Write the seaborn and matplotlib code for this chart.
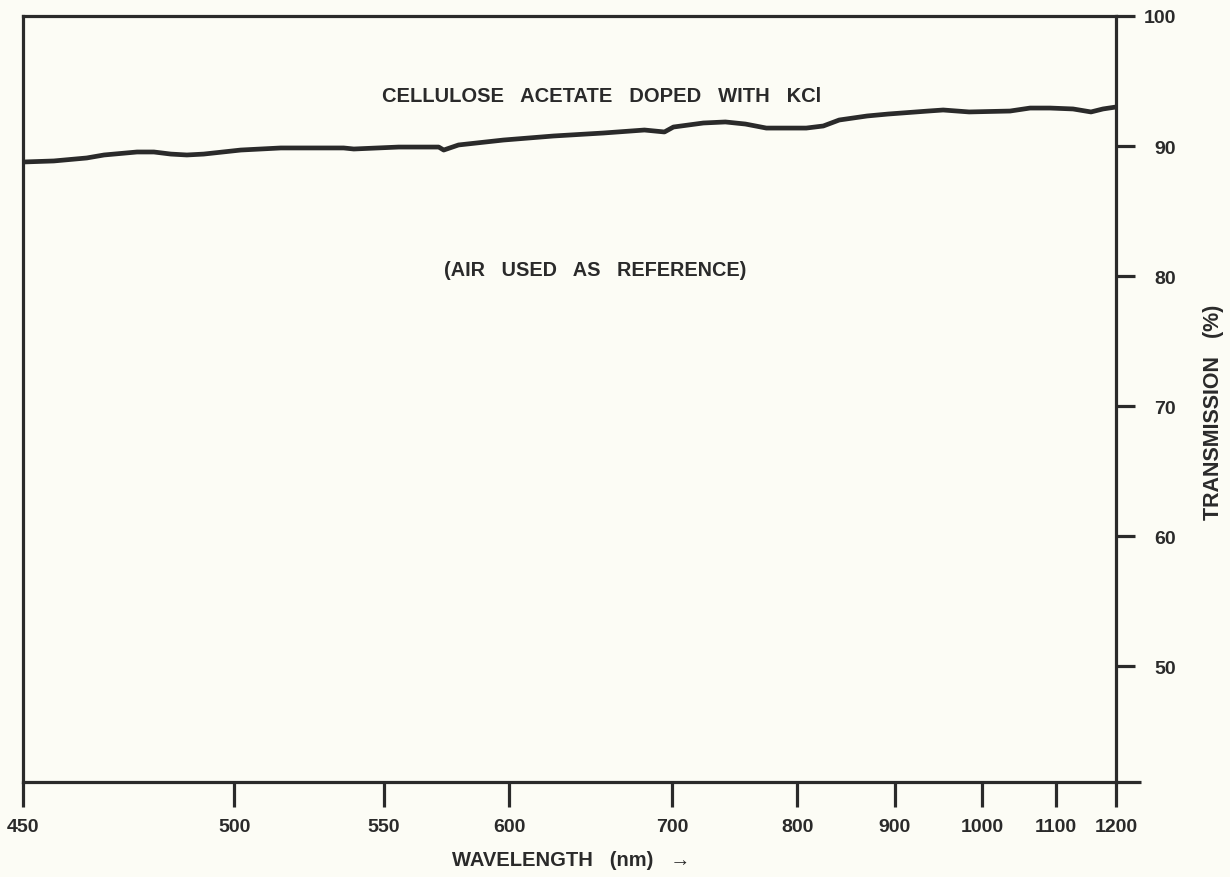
import numpy as np
import pandas as pd
import matplotlib
matplotlib.use("Agg")
import matplotlib.pyplot as plt
import seaborn as sns

# ---------------- data ----------------
wavelength_ticks = [450, 500, 550, 600, 700, 800, 900, 1000, 1100, 1200]
wavelength_tick_labels = ["450", "500", "550", "600", "700", "800", "900", "1000", "1100", "1200"]
transmission_ticks = [50, 60, 70, 80, 90, 100]
transmission_tick_labels = ["50", "60", "70", "80", "90", "100"]

wavelength = [450, 457.3, 465.1, 469.2, 477.0, 481.0, 485.0, 488.8, 492.8, 502.2,
              515.6, 536.6, 540.0, 556.0, 571.9, 573.9, 579.8, 597.7, 627.2, 657.9,
              683.1, 695.4, 701.2, 725.1, 742.7, 758.7, 775.4, 797.0, 809.3, 826.7,
              843.0, 871.6, 893.1, 938.0, 955.1, 984.8, 1037.6, 1064.9, 1092.1, 1128.5,
              1158.4, 1178.4, 1200]
transmission = [88.77, 88.85, 89.08, 89.31, 89.54, 89.54, 89.38, 89.31, 89.38, 89.69,
                89.85, 89.85, 89.77, 89.92, 89.92, 89.69, 90.08, 90.46, 90.77, 91.00,
                91.23, 91.08, 91.46, 91.77, 91.85, 91.69, 91.38, 91.38, 91.38, 91.54,
                92.00, 92.31, 92.46, 92.69, 92.77, 92.62, 92.69, 92.92, 92.92, 92.85,
                92.62, 92.85, 93.00]

curve_label = "CELLULOSE   ACETATE   DOPED   WITH   KCl"
note_label = "(AIR   USED   AS   REFERENCE)"
x_title = "WAVELENGTH   (nm)   \u2192"
y_title = "TRANSMISSION   (%)"

# ---------------- style ----------------
BG = "#fcfcf5"
INK = "#2a2a2a"
FONT = "Liberation Sans"

sns.set_style("white")
plt.rcParams["font.family"] = [FONT, "DejaVu Sans"]

W, H = 1230, 878
fig = plt.figure(figsize=(W / 100, H / 100), dpi=100, facecolor=BG)
L, R, T, B = 23, 1116, 17, 783
ax = fig.add_axes([L / W, 1 - B / H, (R - L) / W, (B - T) / H])
ax.set_facecolor(BG)

# non-uniform wavelength axis of the original instrument chart
tick_frac = [0.0, 0.1932, 0.3300, 0.4449, 0.5937, 0.7083, 0.7978, 0.8778, 0.9450, 1.0]


def fwd(x):
    return np.interp(x, wavelength_ticks, tick_frac)


def inv(f):
    return np.interp(f, tick_frac, wavelength_ticks)


ax.set_xscale("function", functions=(fwd, inv))

df = pd.DataFrame({"wavelength": wavelength, "transmission": transmission})
sns.lineplot(data=df, x="wavelength", y="transmission", ax=ax, color=INK,
             linewidth=3.4, solid_capstyle="round", solid_joinstyle="round")

ylo = 41.08
ax.set_xlim(450, 1200)
ax.set_ylim(ylo, 100)

for s in ax.spines.values():
    s.set_visible(True)
    s.set_color(INK)
    s.set_linewidth(2.3)

ax.set_xticks(wavelength_ticks)
ax.set_xticklabels(wavelength_tick_labels)
ax.xaxis.set_minor_locator(matplotlib.ticker.NullLocator())
ax.tick_params(axis="x", which="major", direction="out", length=18, width=2.3,
               color=INK, pad=8, labelsize=14, labelcolor=INK, bottom=True)

ax.yaxis.tick_right()
ax.set_yticks(transmission_ticks)
ax.set_yticklabels(transmission_tick_labels)
ax.set_yticks([ylo], minor=True)
ax.tick_params(axis="y", which="major", direction="out", length=14, width=2.3,
               color=INK, pad=29, labelsize=14, labelcolor=INK, right=True, left=False)
ax.tick_params(axis="y", which="minor", direction="out", length=18, width=2.3,
               color=INK, right=True, left=False)

for lbl in ax.get_xticklabels():
    lbl.set_fontweight("bold")
for lbl in ax.get_yticklabels():
    lbl.set_fontweight("bold")
    lbl.set_horizontalalignment("right")

ax.set_xlabel("")
ax.set_ylabel("")


def ftext(px, py, s, **kw):
    fig.text(px / W, 1 - py / H, s, ha="center", va="center", color=INK,
             fontweight="bold", **kw)


ftext(602, 97, curve_label, fontsize=14.5)
ftext(595, 270, note_label, fontsize=14.3)
ftext(571, 861, x_title, fontsize=14.5)
ftext(1213, 412, y_title, fontsize=15.5, rotation=90)

fig.savefig("out.png", dpi=100, facecolor=BG)
